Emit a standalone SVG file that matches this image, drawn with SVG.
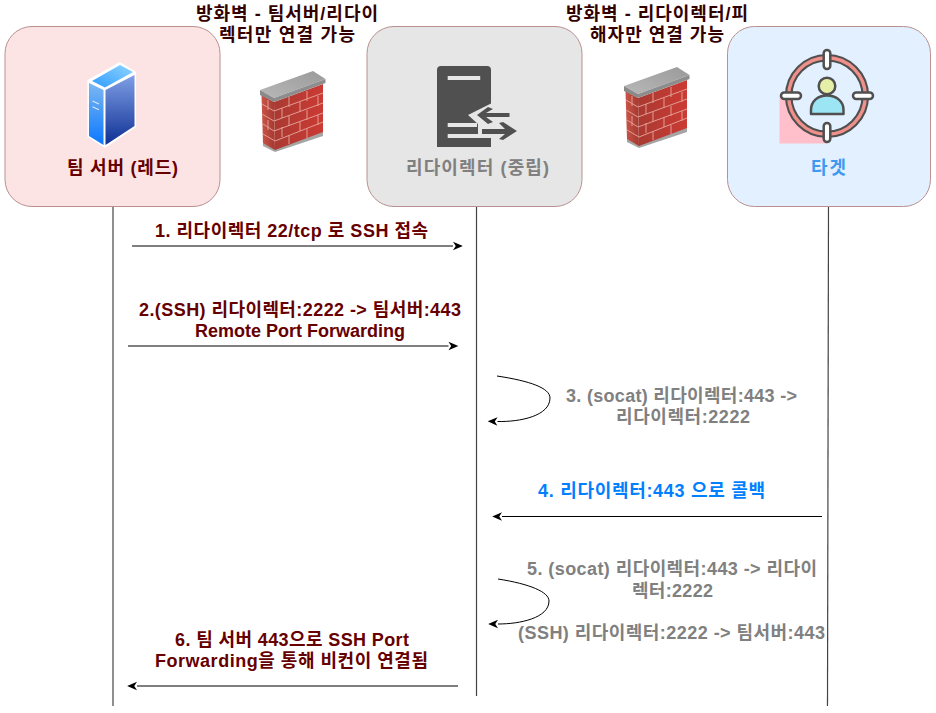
<svg xmlns="http://www.w3.org/2000/svg" xmlns:xlink="http://www.w3.org/1999/xlink" width="936" height="713" viewBox="0 0 936 713">
<style>
text{font-family:"Liberation Sans","Noto Sans CJK KR",sans-serif;font-weight:700;font-size:18px;text-anchor:middle}
.box{stroke:#b9908f;stroke-width:1}
.life{stroke:#444;stroke-width:1.2;fill:none}
.conn{stroke:#000;stroke-width:1;fill:none;marker-end:url(#arr)}
.dk{fill:#330000}.mar{fill:#660000}.gr{fill:#808080}.bl{fill:#007fff}
</style>
<defs>
<marker id="arr" markerUnits="userSpaceOnUse" markerWidth="12" markerHeight="10" refX="1" refY="4" viewBox="0 0 11 8" orient="auto"><path d="M10 4 L1 0 L3.500 4 L1 8Z" fill="#000"/></marker>
<linearGradient id="srvL" x1="0" y1="0" x2="0" y2="1"><stop offset="0" stop-color="#7cb7f2"/><stop offset="1" stop-color="#0a78ff"/></linearGradient>
<linearGradient id="srvR" x1="0" y1="0" x2="0" y2="1"><stop offset="0" stop-color="#7f9fe6"/><stop offset="1" stop-color="#0f2f94"/></linearGradient>
<linearGradient id="srvT" x1="0" y1="1" x2="1" y2="0"><stop offset="0" stop-color="#2f9cff"/><stop offset="1" stop-color="#8fd4ff"/></linearGradient>
<linearGradient id="slab" x1="0" y1="1" x2="1" y2="0"><stop offset="0" stop-color="#b8b8b8"/><stop offset="1" stop-color="#9a9a9a"/></linearGradient>
<linearGradient id="brickF" x1="0" y1="0" x2="1" y2="0"><stop offset="0" stop-color="#a93a32"/><stop offset="1" stop-color="#cc3a34"/></linearGradient>
<linearGradient id="brickL" x1="0" y1="0" x2="1" y2="0"><stop offset="0" stop-color="#c9554a"/><stop offset="1" stop-color="#a5382f"/></linearGradient>
<g id="wall">
<polygon points="1.500,24 14,31 15,80 3,73" fill="url(#brickL)"/>
<polygon points="14,31 63,13 63,62 15,80" fill="url(#brickF)"/>
<polygon points="3,72 15,79 63,61 63,65 15,81 3,75" fill="#a5a5a5"/>
<g stroke="#e39c92" stroke-width="1" fill="none">
<path d="M14 40L63 22M14 50L63 32M14 60L63 42M15 70L63 51"/>
<path d="M2 33L14 40M2 43L14 50M3 53L14 60M3 63L15 70"/>
<path d="M29 26V36M47 20V30M22 37V47M40 31V41M58 25V35M29 45V55M47 39V49M22 56V66M40 50V60M58 44V54M29 64V73M47 58V67M8 29V39M8 49V59"/>
</g>
<polygon points="0,19 53,0 65.500,8 14,27" fill="url(#slab)"/>
<polygon points="0,19 14,27 14,31 0,24" fill="#8a8a8a"/>
<polygon points="14,27 65.500,8 65.500,12 14,31" fill="#8d8d8d"/>
</g>
</defs>

<g id="connectors">
<path class="life" d="M113 206V706"/>
<path class="life" d="M476.500 206V696"/>
<path class="life" d="M828.500 206L827.500 706"/>
<path class="conn" d="M132 246H453"/>
<path class="conn" d="M128 346H448.500"/>
<path class="conn" d="M497 376C530 381 550 388 550 398C550 416 520 422 497.500 421.500"/>
<path class="conn" d="M822 516.500H502"/>
<path class="conn" d="M498 579C530 584 549 592 549 601C549 618 520 624 498 624"/>
<path class="conn" d="M458 686H137"/>
</g>

<g id="fw1-label">
<text class="dk" x="287" y="20" textLength="182">방화벽 - 팀서버/리다이</text>
<text class="dk" x="287" y="41" textLength="136">렉터만 연결 가능</text>
</g>
<g id="fw2-label">
<text class="dk" x="657" y="20" textLength="182">방화벽 - 리다이렉터/피</text>
<text class="dk" x="657" y="41" textLength="134">해자만 연결 가능</text>
</g>

<g id="team-server">
<rect class="box" x="5" y="26.500" width="215" height="180" rx="27" fill="#fde4e4"/>
<g>
<polygon points="87.500,80 120,62 136,72 136,127 105,148 87.500,137" fill="#fff"/>
<polygon points="89,83 103.500,90 103.500,145 89,136" fill="url(#srvL)"/>
<polygon points="105.500,90 134.500,75 134.500,126 105.500,145" fill="url(#srvR)"/>
<polygon points="92,81 120,65 133,72 105,87.500" fill="url(#srvT)"/>
<path d="M92.500 101l6.500 3M92.500 106.800l6.500 3" stroke="#d8e8ff" stroke-width="1.200" fill="none"/>
</g>
<text class="mar" x="122.500" y="174" textLength="111">팀 서버 (레드)</text>
</g>

<g id="firewall-1"><use xlink:href="#wall" x="260" y="71"/></g>
<g id="firewall-2"><use xlink:href="#wall" x="624" y="67"/></g>

<g id="redirector">
<rect class="box" x="367" y="26.500" width="215" height="180" rx="27" fill="#e6e6e6"/>
<path d="M441 66H487Q491 66 491 70V147H437V70Q437 66 441 66Z" fill="#505050"/>
<g fill="#e6e6e6">
<rect x="447.700" y="76" width="32.500" height="4"/>
<rect x="447.700" y="123" width="29.300" height="4"/>
<rect x="447.700" y="134" width="43.300" height="4"/>
<polygon points="492,103 468,115 478,124 478,137 492,137"/>
</g>
<g fill="#505050">
<polygon points="477,115 488,107 493,109 486,113 509.500,113 509.500,117 486,117 493,122 488,124"/>
<polygon points="482,129 505,129 499,123 503,122 517,131 503,140 499,139 505,134 482,134"/>
</g>
<text class="gr" x="477.500" y="174" textLength="143">리다이렉터 (중립)</text>
</g>

<g id="target">
<rect class="box" x="727.500" y="26.500" width="203" height="180" rx="27" fill="#e3f0ff"/>
<path d="M779.500 98V143.500H827V134A38 38 0 0 1 789 96H779.500Z" fill="#ffc0cb"/>
<circle cx="827" cy="96" r="38.300" fill="none" stroke="#505050" stroke-width="7.600"/>
<circle cx="827" cy="96" r="38.300" fill="none" stroke="#f0908a" stroke-width="3.400"/>
<g fill="#fff" stroke="#505050" stroke-width="2.500">
<rect x="823.700" y="50" width="6.600" height="19" rx="3.300"/>
<rect x="823.700" y="123" width="6.600" height="19" rx="3.300"/>
<rect x="781" y="92.500" width="20" height="6.600" rx="3.300"/>
<rect x="853" y="92.500" width="20" height="6.600" rx="3.300"/>
</g>
<circle cx="827" cy="86" r="8.300" fill="#e6efa8" stroke="#505050" stroke-width="2.500"/>
<path d="M811 114V110C811 101 818 95.500 827 95.500C836 95.500 843.500 101 843.500 110V114Z" fill="#9be5f5" stroke="#505050" stroke-width="2.500" stroke-linejoin="round"/>
<text x="828.500" y="174" fill="#4099f0" textLength="35">타겟</text>
</g>

<g id="labels">
<text class="mar" x="291.500" y="237" textLength="273">1. 리다이렉터 22/tcp 로 SSH 접속</text>
<text class="mar" x="300" y="316" textLength="322">2.(SSH) 리다이렉터:2222 -&gt; 팀서버:443</text>
<text class="mar" x="300" y="337" textLength="210">Remote Port Forwarding</text>
<text class="gr" x="681.500" y="402" textLength="231">3. (socat) 리다이렉터:443 -&gt;</text>
<text class="gr" x="683" y="423" textLength="134">리다이렉터:2222</text>
<text class="bl" x="651.500" y="497" textLength="227">4. 리다이렉터:443 으로 콜백</text>
<text class="gr" x="672" y="575" textLength="290">5. (socat) 리다이렉터:443 -&gt; 리다이</text>
<text class="gr" x="672.500" y="597" textLength="81">렉터:2222</text>
<text class="gr" x="671.500" y="639" textLength="307">(SSH) 리다이렉터:2222 -&gt; 팀서버:443</text>
<text class="mar" x="292" y="646" textLength="234">6. 팀 서버 443으로 SSH Port</text>
<text class="mar" x="291.500" y="667" textLength="273">Forwarding을 통해 비컨이 연결됨</text>
</g>
</svg>
